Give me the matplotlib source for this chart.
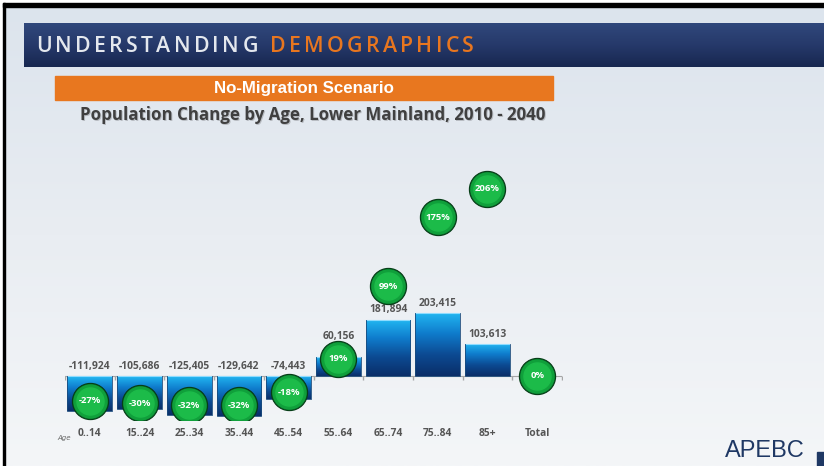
import numpy as np
import matplotlib
matplotlib.use("Agg")
import matplotlib.pyplot as plt
from matplotlib.patches import Rectangle
from matplotlib.colors import LinearSegmentedColormap

# data
groups = ['0..14', '15..24', '25..34', '35..44', '45..54', '55..64', '65..74', '75..84', '85+', 'Total']
change = [-111924, -105686, -125405, -129642, -74443, 60156, 181894, 203415, 103613]
pct_change = [-27, -30, -32, -32, -18, 19, 99, 175, 206, 0]

title_1 = 'UNDERSTANDING '
title_2 = 'DEMOGRAPHICS'
scenario = 'No-Migration Scenario'
subtitle = 'Population Change by Age, Lower Mainland, 2010 - 2040'

W, H = 824, 466


def fx(px):
    return px / W


def fy(py):
    return 1 - py / H


fig = plt.figure(figsize=(8.24, 4.66), dpi=100, facecolor='white')

# slide background, drawn in pixel coords (y down)
bg = fig.add_axes([0, 0, 1, 1])
bg.set_xlim(0, W)
bg.set_ylim(H, 0)
bg.axis('off')

grad = np.linspace(0, 1, 256).reshape(-1, 1)
slide_cmap = LinearSegmentedColormap.from_list('slide', ['#dce4ed', '#e9edf2', '#f4f6f8'])
bg.imshow(grad, extent=(4, W, H, 4), aspect='auto', cmap=slide_cmap, zorder=0)

band_cmap = LinearSegmentedColormap.from_list('band', ['#30487c', '#26396a', '#172750'])
bg.imshow(grad, extent=(24, W, 67.5, 24), aspect='auto', cmap=band_cmap, zorder=1)

# black frame of the screenshot
bg.add_patch(Rectangle((3, 3), W, 3.5, color='black', zorder=2))
bg.add_patch(Rectangle((3, 3), 2.5, H, color='black', zorder=2))

# header text with letter spacing
renderer = fig.canvas.get_renderer()
chars = [(c, '#e4e8ee') for c in title_1] + [(c, '#e8761f') for c in title_2]
pieces = []
for c, col in chars:
    t = bg.text(0, 47, c, color=col, fontsize=15.3, fontweight='semibold',
                family='Open Sans', va='center', ha='left', zorder=3)
    pieces.append(t)
widths = [t.get_window_extent(renderer).width for t in pieces]
gap = (438 - sum(widths)) / (len(pieces) - 1)
xpos = 36
for t, w in zip(pieces, widths):
    t.set_x(xpos)
    xpos += w + gap

bg.set_xlim(0, W)
bg.set_ylim(H, 0)

# orange scenario box
bg.add_patch(Rectangle((55, 76), 498, 24, color='#e8771f', zorder=2))
bg.text(304, 88.5, scenario, color='white', fontsize=12.2, fontweight='bold',
        family='Liberation Sans', ha='center', va='center', zorder=3)

bg.text(81, 116, subtitle, color='#b8bcc2', fontsize=12.2, fontweight='bold',
        family='Open Sans', ha='left', va='center', zorder=2)
bg.text(80, 115, subtitle, color='#404040', fontsize=12.2, fontweight='bold',
        family='Open Sans', ha='left', va='center', zorder=3)

bg.text(57, 438, 'Age', color='#666666', fontsize=5, style='italic', ha='left', va='center')

# APEBC logo text
bg.text(725, 457, 'APEBC', color='#1f3864', fontsize=17, family='Liberation Sans',
        ha='left', va='baseline', zorder=3)
bg.add_patch(Rectangle((817, 452), 8, 15, color='#1f3864', zorder=3))

# chart area
top, bottom, base = 160, 420, 376
px_per_k = 0.31      # pixels per 1000 people
px_per_pct = 0.908   # pixels per percent

ax = fig.add_axes([fx(65), fy(bottom), (562 - 65) / W, (bottom - top) / H])
ax.patch.set_alpha(0)
x = np.arange(len(groups))

bar_cmap = LinearSegmentedColormap.from_list('bar', ['#22b8f2', '#0f7ccc', '#0c4a92', '#0a2e68'])
bars = ax.bar(x[:len(change)], change, width=0.9, color='none', edgecolor='#1b4b7c',
              linewidth=0.6, zorder=2)
for b in bars:
    x0, y0, w, h = b.get_x(), b.get_y(), b.get_width(), b.get_height()
    im = ax.imshow(grad, extent=(x0, x0 + w, min(y0, y0 + h), max(y0, y0 + h)),
                   aspect='auto', cmap=bar_cmap, origin='upper', zorder=1.5)
    im.set_clip_path(b)
    ytop = max(y0, y0 + h)
    ax.plot([x0 + 0.02, x0 + w - 0.02], [ytop, ytop], color='#8fdcff', lw=0.8, zorder=2.5)

ax.axhline(0, color='#a6a6a6', lw=0.8, zorder=1)
bounds = np.arange(len(groups) + 1) - 0.5
ax.plot(bounds, np.zeros_like(bounds), ls='none', marker=3, ms=3, color='#a6a6a6', zorder=1)

lab_font = dict(fontweight='bold', color='#555555', family='Open Sans')
for i, v in enumerate(change):
    off = 7 if v > 0 else 6.5
    if groups[i] == '55..64':
        off = 15  # pushed above the bubble
    ax.annotate(f'{v:,}', (i, max(v, 0)), xytext=(0, off), textcoords='offset points',
                ha='center', va='center', fontsize=7.4, **lab_font)

ax.set_xlim(-0.5, len(groups) - 0.5)
ax.set_ylim(-(bottom - base) / px_per_k * 1000, (base - top) / px_per_k * 1000)
ax.set_xticks(x, groups)
ax.tick_params(axis='x', length=0, pad=6)
for lbl in ax.get_xticklabels():
    lbl.set(fontsize=7.4, **lab_font)
ax.set_yticks([])
for s in ax.spines.values():
    s.set_visible(False)

# percent bubbles on a second scale
ax2 = ax.twinx()
ax2.patch.set_alpha(0)
ax2.set_ylim(-(bottom - base) / px_per_pct, (base - top) / px_per_pct)
ax2.scatter(x, pct_change, s=680, c='#0a6a2a', edgecolors='#053d16', linewidths=0.8, zorder=3)
ax2.scatter(x, pct_change, s=560, c='#10a03b', zorder=4)
ax2.scatter(x, pct_change, s=380, c='#1cbb49', zorder=5)
for i, p in enumerate(pct_change):
    ax2.text(i, p, f'{p}%', ha='center', va='center', color='white', fontsize=6.8,
             fontweight='bold', family='Open Sans', zorder=6)
ax2.set_yticks([])
for s in ax2.spines.values():
    s.set_visible(False)
ax2.set_xlim(-0.5, len(groups) - 0.5)

fig.savefig('out.png', dpi=100, facecolor=fig.get_facecolor())
